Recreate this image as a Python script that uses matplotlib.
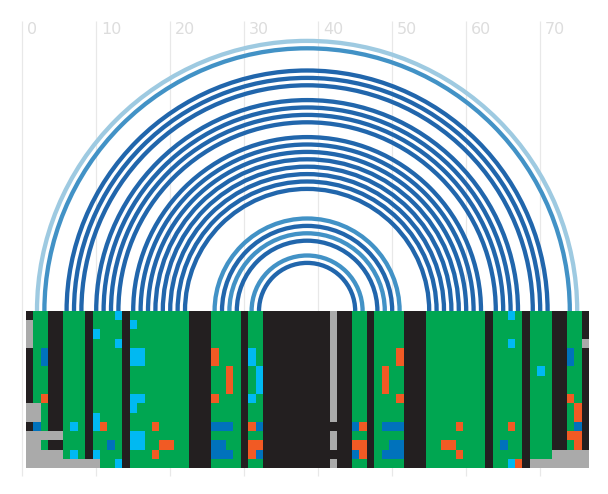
"""
Arc diagram of a base-paired alignment with the alignment matrix underneath
"""

import matplotlib
matplotlib.use('Agg')
import matplotlib.pyplot as plt
from matplotlib.patches import Arc
from matplotlib.colors import ListedColormap

# Base pairs (alignment column positions, 1-based)
PAIR_LEFT = [2, 3, 6, 7, 8, 10, 11, 12, 13, 15, 16, 17, 18, 19, 20, 21, 22,
             26, 27, 28, 29, 31, 32]
PAIR_RIGHT = [75, 74, 71, 70, 69, 67, 66, 65, 64, 62, 61, 60, 59, 58, 57, 56, 55,
              51, 50, 49, 48, 46, 45]
# Arc class: 0 = light, 1 = medium, 2 = dark
PAIR_CLASS = [0, 1, 2, 2, 2, 2, 2, 2, 2, 2, 2, 2, 2, 2, 2, 2, 2,
              1, 2, 1, 2, 1, 2]

# Alignment matrix, one string per sequence, one char per column
# K unpaired, G paired, C one-sided change, B covariation, O invalid pair, A gap
ALIGNMENT = [
    "KGGKKGGGKG" "GGCKGGGGGG" "GGKKKGGGGK" "GGKKKKKKKK" "KAKKGGKGGG" "GKKKGGGGGG" "GGKGGCGKGG" "GKKGGK",
    "AGGKKGGGKG" "GGGKCGGGGG" "GGKKKGGGGK" "GGKKKKKKKK" "KAKKGGKGGG" "GKKKGGGGGG" "GGKGGGGKGG" "GKKGGK",
    "AGGKKGGGKC" "GGGKGGGGGG" "GGKKKGGGGK" "GGKKKKKKKK" "KAKKGGKGGG" "GKKKGGGGGG" "GGKGGGGKGG" "GKKGGK",
    "AGGKKGGGKG" "GGCKGGGGGG" "GGKKKGGGGK" "GGKKKKKKKK" "KAKKGGKGGG" "GKKKGGGGGG" "GGKGGCGKGG" "GKKGGA",
    "KGBKKGGGKG" "GGGKCCGGGG" "GGKKKOGGGK" "CGKKKKKKKK" "KAKKGGKGGG" "OKKKGGGGGG" "GGKGGGGKGG" "GKKBGK",
    "KGBKKGGGKG" "GGGKCCGGGG" "GGKKKOGGGK" "CGKKKKKKKK" "KAKKGGKGGG" "OKKKGGGGGG" "GGKGGGGKGG" "GKKBGK",
    "KGGKKGGGKG" "GGGKGGGGGG" "GGKKKGGOGK" "GCKKKKKKKK" "KAKKGGKGOG" "GKKKGGGGGG" "GGKGGGGKGC" "GKKGGK",
    "KGGKKGGGKG" "GGGKGGGGGG" "GGKKKGGOGK" "GCKKKKKKKK" "KAKKGGKGOG" "GKKKGGGGGG" "GGKGGGGKGG" "GKKGGK",
    "KGGKKGGGKG" "GGGKGGGGGG" "GGKKKGGOGK" "GCKKKKKKKK" "KAKKGGKGOG" "GKKKGGGGGG" "GGKGGGGKGG" "GKKGGK",
    "KGOKKGGGKG" "GGGKCCGGGG" "GGKKKOGGGK" "CGKKKKKKKK" "KAKKGGKGGG" "OKKKGGGGGG" "GGKGGGGKGG" "GKKOGK",
    "AAGKKGGGKG" "GGGKCGGGGG" "GGKKKGGGGK" "GGKKKKKKKK" "KAKKGGKGGG" "GKKKGGGGGG" "GGKGGGGKGG" "GKKGOK",
    "AAGKKGGGKC" "GGGKGGGGGG" "GGKKKGGGGK" "GGKKKKKKKK" "KAKKGGKGGG" "GKKKGGGGGG" "GGKGGGGKGG" "GKKGOK",
    "KBGKKGCGKC" "OGGKGGGOGG" "GGKKKBBBGK" "OBKKKKKKKK" "KKKKBOKGBB" "BKKKGGGGOG" "GGKGGOGKGG" "GKKGBK",
    "AAAAAGGGKG" "GGGKCCGGGG" "GGKKKGGGGK" "GGKKKKKKKK" "KAKKGGKGGG" "GKKKGGGGGG" "GGKGGGGKGG" "GKKOOK",
    "AAGKKGGGKG" "GBGKCCGGOO" "GGKKKBBGGK" "OOKKKKKKKK" "KAKKOOKGGB" "BKKKGGOOGG" "GGKGBGGKGG" "GKKGOK",
    "AAAAAGCGKC" "GGGKGGGOGG" "GGKKKBBBGK" "OBKKKKKKKK" "KKKKBOKGBB" "BKKKGGGGOG" "GGKGGGGKGG" "GAAAAA",
    "AAAAAAAAAA" "GGCKGGGGGG" "GGKKKGGGGK" "GGKKKKKKKK" "KAKKGGKGGG" "GKKKGGGGGG" "GGKGGCOKAA" "AAAAAA",
]

TICKS = [0, 10, 20, 30, 40, 50, 60, 70]

CELL_CODES = "KGCBOA"
CELL_COLORS = ['#231f20', '#00a651', '#00b9f2', '#0072bc', '#f15a24', '#aaaaaa']
ARC_COLORS = ['#9ecae1', '#4292c6', '#2166ac']

# pixel geometry: 7.4 px per column, baseline 311 px from top
PX = 7.4
X0 = 22.2
BASE = 311


def main():
    fig = plt.figure(figsize=(6.08, 4.94), dpi=100)
    ax = fig.add_axes([0, 0, 1, 1])
    ax.set_xlim(-X0 / PX, (608 - X0) / PX)
    ax.set_ylim(-(494 - BASE) / PX, BASE / PX)
    ax.axis('off')

    # grid lines + labels at the top
    y_top = (BASE - 20.7) / PX
    y_bot = -(475.7 - BASE) / PX
    ax.vlines(TICKS, y_bot, y_top, color='#e8e8e8', lw=0.9, zorder=0)
    for t in TICKS:
        ax.text(t + 0.65, (BASE - 34) / PX, str(t), ha='left', va='baseline',
                fontsize=11.5, color='#dddddd', zorder=1)

    # arcs
    for i, j, c in zip(PAIR_LEFT, PAIR_RIGHT, PAIR_CLASS):
        w = j - i
        arc = Arc(((i + j) / 2, 0), w, w, theta1=0, theta2=180,
                  color=ARC_COLORS[c], lw=3.1, zorder=2)
        ax.add_patch(arc)

    # alignment matrix
    grid = [[CELL_CODES.index(ch) for ch in row] for row in ALIGNMENT]
    n_cols = len(ALIGNMENT[0])
    ax.imshow(grid, cmap=ListedColormap(CELL_COLORS), vmin=-0.5, vmax=len(CELL_COLORS) - 0.5,
              interpolation='nearest', aspect='auto',
              extent=(0.5, n_cols + 0.5, -(468 - BASE) / PX, 0), zorder=3)

    fig.savefig('out.png', dpi=100)


if __name__ == '__main__':
    main()
